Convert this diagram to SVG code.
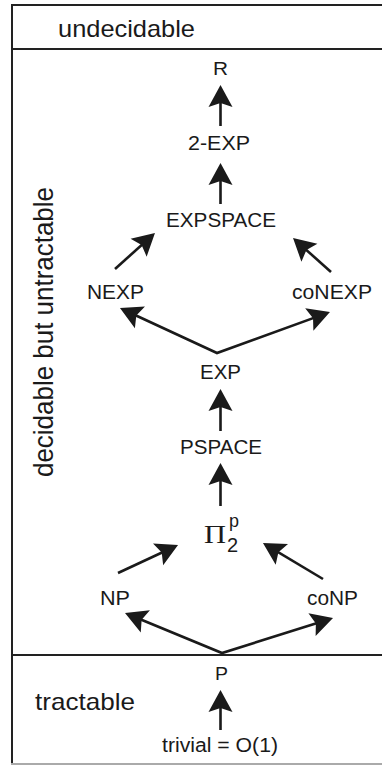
<svg xmlns="http://www.w3.org/2000/svg" width="382" height="765" viewBox="0 0 382 765">
  <style>
    .frame { stroke: #222; stroke-width: 2; fill: none; }
    .base { stroke: #aaa; stroke-width: 2; fill: none; }
    .lbl { font-family: "Liberation Sans", Arial, sans-serif; font-size: 19.5px; fill: #1a1a1a; }
    .big { font-family: "Liberation Sans", Arial, sans-serif; font-size: 24px; fill: #1a1a1a; }
    .greek { font-family: "Liberation Serif", "Times New Roman", serif; font-size: 26px; fill: #1a1a1a; }
    .edge { stroke: #1a1a1a; stroke-width: 2.6; fill: none; marker-end: url(#ah); stroke-linejoin: miter; }
    .vee { marker-start: url(#ahs); }
  </style>
  <defs>
    <marker id="ah" viewBox="-20 -13 26 26" refX="0" refY="0" markerWidth="26" markerHeight="26" markerUnits="userSpaceOnUse" orient="auto">
      <path d="M4,0 L-18,-12 L-14,0 L-18,12 Z" fill="#1a1a1a"/>
    </marker>
    <marker id="ahs" viewBox="-20 -13 26 26" refX="0" refY="0" markerWidth="26" markerHeight="26" markerUnits="userSpaceOnUse" orient="auto-start-reverse">
      <path d="M4,0 L-18,-12 L-14,0 L-18,12 Z" fill="#1a1a1a"/>
    </marker>
  </defs>

  <!-- region frame -->
  <g id="frame">
    <line class="frame" x1="12" y1="4" x2="12" y2="764"/>
    <line class="frame" x1="11" y1="5" x2="382" y2="5"/>
    <line class="frame" x1="11" y1="49" x2="382" y2="49"/>
    <line class="frame" x1="11" y1="655" x2="382" y2="655"/>
    <line class="base" x1="11" y1="764" x2="382" y2="764"/>
  </g>

  <!-- region captions -->
  <g id="regions">
    <text class="big" x="58" y="37" textLength="137" lengthAdjust="spacingAndGlyphs">undecidable</text>
    <text class="big" transform="translate(53,477) scale(1.07,1) rotate(-90)" style="font-size:26px" textLength="290" lengthAdjust="spacingAndGlyphs">decidable but untractable</text>
    <text class="big" x="35" y="710" textLength="100" lengthAdjust="spacingAndGlyphs">tractable</text>
  </g>

  <!-- complexity classes -->
  <g id="R"><text class="lbl" x="213" y="75" style="font-size:18px" textLength="15" lengthAdjust="spacingAndGlyphs">R</text></g>
  <g id="2EXP"><text class="lbl" x="188" y="150" textLength="62" lengthAdjust="spacingAndGlyphs">2-EXP</text></g>
  <g id="EXPSPACE"><text class="lbl" x="166" y="227" textLength="110" lengthAdjust="spacingAndGlyphs">EXPSPACE</text></g>
  <g id="NEXP"><text class="lbl" x="87" y="299" textLength="57" lengthAdjust="spacingAndGlyphs">NEXP</text></g>
  <g id="coNEXP"><text class="lbl" x="292" y="299" textLength="80" lengthAdjust="spacingAndGlyphs">coNEXP</text></g>
  <g id="EXP"><text class="lbl" x="200" y="379" textLength="41" lengthAdjust="spacingAndGlyphs">EXP</text></g>
  <g id="PSPACE"><text class="lbl" x="180" y="454" textLength="82" lengthAdjust="spacingAndGlyphs">PSPACE</text></g>
  <g id="Pi2p">
    <text class="greek" x="204" y="543" textLength="22" lengthAdjust="spacingAndGlyphs">Π</text>
    <text class="lbl" x="229" y="527" style="font-size:18px">p</text>
    <text class="lbl" x="227" y="552" style="font-size:20px">2</text>
  </g>
  <g id="NP"><text class="lbl" x="100" y="605" textLength="30" lengthAdjust="spacingAndGlyphs">NP</text></g>
  <g id="coNP"><text class="lbl" x="307" y="605" textLength="51" lengthAdjust="spacingAndGlyphs">coNP</text></g>
  <g id="P"><text class="lbl" x="215" y="680" style="font-size:18px" textLength="13" lengthAdjust="spacingAndGlyphs">P</text></g>
  <g id="trivial"><text class="lbl" x="162" y="752" textLength="116" lengthAdjust="spacingAndGlyphs">trivial = O(1)</text></g>

  <!-- inclusion arrows -->
  <g id="edges">
    <line class="edge" x1="220.5" y1="126" x2="220.5" y2="89"/>
    <line class="edge" x1="220.5" y1="204" x2="220.5" y2="167"/>
    <line class="edge" x1="115" y1="269" x2="152" y2="235.7"/>
    <line class="edge" x1="331" y1="272" x2="296" y2="240.7"/>
    <polyline class="edge vee" points="123.6,309.7 217,353 326.2,313.4"/>
    <line class="edge" x1="220.5" y1="431" x2="220.5" y2="393"/>
    <line class="edge" x1="220.5" y1="506" x2="220.5" y2="467"/>
    <line class="edge" x1="118" y1="573" x2="174.4" y2="546.7"/>
    <line class="edge" x1="323" y1="579" x2="266.4" y2="545.1"/>
    <polyline class="edge vee" points="128.7,614.5 222,653 329.2,619.2"/>
    <line class="edge" x1="220.5" y1="730" x2="220.5" y2="694"/>
  </g>
</svg>
